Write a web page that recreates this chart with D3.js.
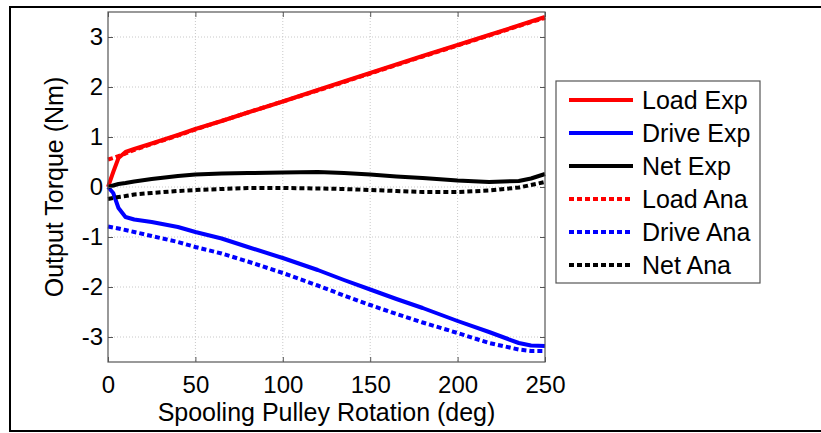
<!DOCTYPE html>
<html>
<head>
<meta charset="utf-8">
<script src="https://cdn.jsdelivr.net/npm/d3@7"></script>
<style>
  body { margin: 0; background: #fff; }
  svg { display: block; font-family: "Liberation Sans", Arial, sans-serif; }
  .grid line { stroke: #c8c8c8; stroke-dasharray: 1,2; }
  .axis text { font-size: 24px; fill: #000; }
  .axis path, .axis line { stroke: #555; }
</style>
</head>
<body>
<div id="chart"></div>
<script>
// Rotation angle (deg) shared by all six series
var angles = [0, 3, 6, 10, 15, 25, 40, 50, 65, 80, 100, 120, 135, 150, 165, 180, 200, 218, 235, 242, 250];

var loadExp  = [0, 0.30, 0.58, 0.70, 0.76, 0.87, 1.04, 1.16, 1.32, 1.49, 1.71, 1.94, 2.11, 2.28, 2.45, 2.62, 2.84, 3.04, 3.23, 3.31, 3.40];
var driveExp = [0, -0.12, -0.42, -0.60, -0.65, -0.70, -0.80, -0.90, -1.03, -1.20, -1.42, -1.66, -1.86, -2.05, -2.24, -2.42, -2.68, -2.90, -3.12, -3.17, -3.18];
var netExp   = [0, 0.03, 0.06, 0.08, 0.11, 0.16, 0.22, 0.25, 0.27, 0.28, 0.29, 0.30, 0.28, 0.25, 0.21, 0.18, 0.13, 0.10, 0.12, 0.17, 0.26];
var loadAna  = [0.55, 0.58, 0.62, 0.67, 0.74, 0.86, 1.03, 1.15, 1.32, 1.49, 1.71, 1.93, 2.10, 2.27, 2.44, 2.61, 2.83, 3.03, 3.22, 3.30, 3.38];
var driveAna = [-0.79, -0.81, -0.83, -0.86, -0.90, -0.98, -1.10, -1.20, -1.33, -1.49, -1.72, -1.97, -2.17, -2.36, -2.54, -2.71, -2.92, -3.12, -3.25, -3.28, -3.28];
var netAna   = [-0.24, -0.22, -0.20, -0.18, -0.15, -0.12, -0.08, -0.06, -0.04, -0.02, -0.02, -0.03, -0.04, -0.06, -0.08, -0.10, -0.10, -0.07, -0.01, 0.04, 0.10];

var seriesNames = ['Load Exp', 'Drive Exp', 'Net Exp', 'Load Ana', 'Drive Ana', 'Net Ana'];
var seriesValues = [loadExp, driveExp, netExp, loadAna, driveAna, netAna];
var seriesColors = ['#ff0000', '#0000ff', '#000000', '#ff0000', '#0000ff', '#000000'];
var seriesDashed = [false, false, false, true, true, true];

var xTicks = [0, 50, 100, 150, 200, 250];
var yTicks = [-3, -2, -1, 0, 1, 2, 3];

var W = 821, H = 433;
var margin = {top: 12, left: 108, right: 276, bottom: 71};
var width = W - margin.left - margin.right;
var height = H - margin.top - margin.bottom;

var svg = d3.select('#chart').append('svg')
    .attr('width', W)
    .attr('height', H);

// outer frame
svg.append('path')
    .attr('d', 'M' + W + ',7 H10 V431 H' + W)
    .attr('fill', 'none')
    .attr('stroke', '#000')
    .attr('stroke-width', 2);

var g = svg.append('g')
    .attr('transform', 'translate(' + margin.left + ',' + margin.top + ')');

var x = d3.scaleLinear().domain([0, 250]).range([0, width]);
var y = d3.scaleLinear().domain([-3.5, 3.5]).range([height, 0]);

// grid
g.append('g').attr('class', 'grid')
  .selectAll('line').data(xTicks.slice(1, -1)).enter().append('line')
    .attr('x1', d => x(d)).attr('x2', d => x(d))
    .attr('y1', 0).attr('y2', height);
g.append('g').attr('class', 'grid')
  .selectAll('line').data(yTicks).enter().append('line')
    .attr('x1', 0).attr('x2', width)
    .attr('y1', d => y(d)).attr('y2', d => y(d));

// series
var line = d3.line()
    .x(d => x(d[0]))
    .y(d => y(d[1]));

seriesValues.forEach(function(vals, i) {
  g.append('path')
      .datum(angles.map((a, j) => [a, vals[j]]))
      .attr('d', line)
      .attr('fill', 'none')
      .attr('stroke', seriesColors[i])
      .attr('stroke-width', 4)
      .attr('stroke-linejoin', 'round')
      .attr('stroke-dasharray', seriesDashed[i] ? '5,3' : null);
});

// axes, ticks inward on all four sides
var tickLen = 5;
g.append('g').attr('class', 'axis')
    .attr('transform', 'translate(0,' + height + ')')
    .call(d3.axisBottom(x).tickValues(xTicks).tickSizeInner(-tickLen).tickSizeOuter(0).tickPadding(14))
    .call(a => a.select('.domain').remove());
g.append('g').attr('class', 'axis')
    .call(d3.axisLeft(y).tickValues(yTicks).tickFormat(d => String(d)).tickSizeInner(-tickLen).tickSizeOuter(0).tickPadding(5))
    .call(a => a.select('.domain').remove());
g.append('g').attr('class', 'axis')
    .call(d3.axisTop(x).tickValues(xTicks).tickSizeInner(-tickLen).tickSizeOuter(0).tickFormat(''))
    .call(a => a.select('.domain').remove());
g.append('g').attr('class', 'axis')
    .attr('transform', 'translate(' + width + ',0)')
    .call(d3.axisRight(y).tickValues(yTicks).tickSizeInner(-tickLen).tickSizeOuter(0).tickFormat(''))
    .call(a => a.select('.domain').remove());

g.append('rect')
    .attr('width', width).attr('height', height)
    .attr('fill', 'none').attr('stroke', '#555').attr('stroke-width', 1.2);

// axis labels
svg.append('text')
    .attr('x', margin.left + width / 2).attr('y', 421)
    .attr('text-anchor', 'middle')
    .style('font-size', '25px')
    .text('Spooling Pulley Rotation (deg)');
svg.append('text')
    .attr('transform', 'translate(63,' + (margin.top + y(0)) + ') rotate(-90)')
    .attr('text-anchor', 'middle')
    .style('font-size', '25px')
    .text('Output Torque (Nm)');

// legend
var legend = svg.append('g').attr('transform', 'translate(556,81)');
legend.append('rect')
    .attr('width', 204).attr('height', 202)
    .attr('fill', '#fff').attr('stroke', '#555').attr('stroke-width', 1.2);

var items = legend.selectAll('g.item')
    .data(seriesNames)
    .enter().append('g')
      .attr('class', 'item')
      .attr('transform', (d, i) => 'translate(0,' + (19 + i * 33) + ')');
items.append('line')
    .attr('x1', 13).attr('x2', 77)
    .attr('stroke', (d, i) => seriesColors[i])
    .attr('stroke-width', 4)
    .attr('stroke-dasharray', (d, i) => seriesDashed[i] ? '5,3' : null);
items.append('text')
    .attr('x', 86).attr('dy', '0.36em')
    .style('font-size', '25px')
    .text(d => d);
</script>
</body>
</html>
